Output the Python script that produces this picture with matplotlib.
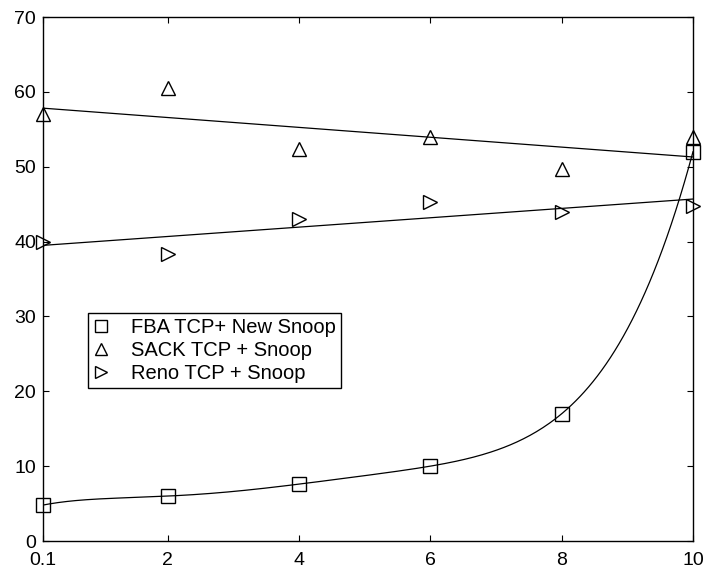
import matplotlib
matplotlib.use('Agg')
import matplotlib.pyplot as plt
import numpy as np

plt.rcParams['font.family'] = ['Liberation Sans', 'DejaVu Sans']

x = [0.1, 2, 4, 6, 8, 10]
fba = [4.8, 6.0, 7.6, 10.0, 17.0, 52.0]
sack = [57.0, 60.5, 52.3, 54.0, 49.7, 54.0]
reno = [40.0, 38.3, 43.0, 45.3, 44.0, 44.8]
xticks = [0.1, 2, 4, 6, 8, 10]
xticklabels = ['0.1', '2', '4', '6', '8', '10']

fig = plt.figure(figsize=(7.09, 5.72), dpi=100)
ax = fig.add_axes([43/709, 31/572, 650/709, 524/572])

xs = np.linspace(0.1, 10, 300)
# fitted curves
ax.plot(xs, np.polyval(np.polyfit(x, fba, 5), xs), color='k', lw=0.9)
ax.plot(xs, np.polyval(np.polyfit(x, sack, 1), xs), color='k', lw=0.9)
ax.plot(xs, np.polyval(np.polyfit(x, reno, 1), xs), color='k', lw=0.9)

mk = dict(linestyle='none', mfc='none', mec='k', mew=1.0, ms=10, clip_on=False)
ax.plot(x, fba, marker='s', label='FBA TCP+ New Snoop', **mk)
ax.plot(x, sack, marker='^', label='SACK TCP + Snoop', **mk)
ax.plot(x, reno, marker='>', label='Reno TCP + Snoop', **mk)

ax.set_xlim(0.1, 10)
ax.set_ylim(0, 70)
ax.set_xticks(xticks)
ax.set_xticklabels(xticklabels)
ax.set_yticks(range(0, 71, 10))
ax.tick_params(direction='in', top=True, right=True, labelsize=14, length=4.5)
ax.tick_params(axis='x', pad=8)
ax.tick_params(axis='y', pad=5)
for s in ax.spines.values():
    s.set_linewidth(1.0)

leg = ax.legend(loc='upper left', bbox_to_anchor=(0.069, 0.435), fontsize=14.5,
                frameon=True, fancybox=False, edgecolor='k', framealpha=1,
                markerscale=0.8, borderaxespad=0,
                handlelength=0.8, handletextpad=1.1, borderpad=0.25, labelspacing=0.2)
leg.get_frame().set_linewidth(1.0)

fig.savefig('out.png', dpi=100)
